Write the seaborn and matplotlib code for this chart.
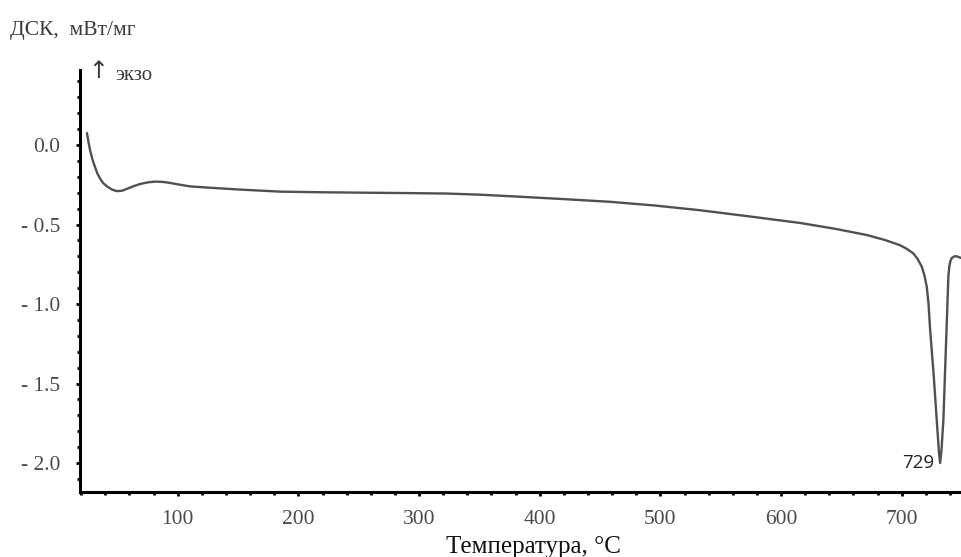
import numpy as np
import pandas as pd
import matplotlib
matplotlib.use("Agg")
import matplotlib.pyplot as plt
from matplotlib.ticker import MultipleLocator, FixedLocator, FixedFormatter
import seaborn as sns

# ---- data ----
temperature = [24.8, 26.0, 27.3, 29.3, 31.5, 33.5, 35.6, 38.3, 41.4, 45.5, 49.7, 54.0,
               58.0, 63.0, 68.8, 75.0, 81.2, 86.0, 91.1, 100.0, 110.2, 130.0,
               151.6, 184.8, 220.0, 259.4, 290.0, 323.2, 350.0, 383.7, 420.0,
               458.3, 495.0, 532.9, 575.0, 615.8, 645.0, 671.2, 686.0,
               698.6, 704.0, 709.4, 713.0, 716.6, 718.8, 720.7, 722.2, 723.5,
               726.5, 729.0, 730.8, 731.8, 732.8, 734.5, 736.0, 737.4, 738.2,
               738.7, 739.5, 740.3, 741.5, 743.5, 745.6, 749.1]
dsc = [0.075, 0.02, -0.03, -0.09, -0.14, -0.18, -0.21, -0.24, -0.26, -0.28, -0.29, -0.287,
       -0.275, -0.26, -0.245, -0.235, -0.23, -0.231, -0.235, -0.247, -0.26, -0.27,
       -0.28, -0.293, -0.297, -0.30, -0.302, -0.305, -0.312, -0.325, -0.34,
       -0.357, -0.38, -0.41, -0.45, -0.49, -0.527, -0.566, -0.597,
       -0.63, -0.652, -0.68, -0.715, -0.765, -0.82, -0.89, -1.0, -1.16,
       -1.45, -1.73, -1.93, -2.0, -1.93, -1.73, -1.40, -1.10, -0.92,
       -0.82, -0.76, -0.73, -0.71, -0.70, -0.70, -0.71]
x_ticks = [100, 200, 300, 400, 500, 600, 700]
y_ticks = [0.0, -0.5, -1.0, -1.5, -2.0]
y_tick_labels = ["0.0", "- 0.5", "- 1.0", "- 1.5", "- 2.0"]
peak_label = "729"
peak_T = 731.8
peak_val = -2.0

df = pd.DataFrame({"T": temperature, "DSC": dsc})

sns.set_style("ticks")
plt.rcParams["font.family"] = ["Liberation Serif", "DejaVu Serif"]

fig = plt.figure(figsize=(9.61, 5.57), dpi=100)
ax = fig.add_axes([80 / 961, 1 - 492 / 557, (961 - 80) / 961, (492 - 70) / 557])

sns.lineplot(data=df, x="T", y="DSC", ax=ax, color="#505050", linewidth=1.7,
             sort=False, estimator=None)

ax.set_xlim(19, 749.1)
ax.set_ylim(-2.182, 0.472)

for s in ["top", "right"]:
    ax.spines[s].set_visible(False)
for s in ["left", "bottom"]:
    ax.spines[s].set_linewidth(2.2)
    ax.spines[s].set_color("black")

ax.xaxis.set_major_locator(FixedLocator(x_ticks))
ax.xaxis.set_minor_locator(MultipleLocator(20))
ax.yaxis.set_major_locator(FixedLocator(y_ticks))
ax.yaxis.set_major_formatter(FixedFormatter(y_tick_labels))
ax.yaxis.set_minor_locator(MultipleLocator(0.1))

ax.tick_params(axis="both", which="major", length=3.2, width=2, color="black",
               labelsize=15.5, labelcolor="#4a4a4a", direction="out")
ax.tick_params(axis="both", which="minor", length=2.5, width=2, color="black",
               direction="out")
ax.tick_params(axis="x", which="major", pad=10)
ax.tick_params(axis="y", which="major", pad=11)

ax.set_xlabel("Температура, °C", fontsize=18, color="#111111")
ax.xaxis.set_label_coords((533 - 80) / 881, -44 / 422)
ax.set_ylabel("")

fig.text(10 / 961, 1 - 30 / 557, "ДСК,  мВт/мг", fontsize=15.5, color="#3a3a3a",
         ha="left", va="center")
fig.text(88 / 961, 1 - 71 / 557, "↑", fontsize=17, color="#3a3a3a",
         ha="left", va="center", family=["DejaVu Sans"])
fig.text(115 / 961, 1 - 76 / 557, "экзо", fontsize=15, color="#3a3a3a",
         ha="left", va="center")

ax.annotate(peak_label, xy=(peak_T, peak_val), xytext=(-4, 0),
            textcoords="offset points", ha="right", va="center",
            fontsize=13.5, color="#222222", family=["Open Sans", "DejaVu Sans"])

fig.savefig("out.png", dpi=100)
